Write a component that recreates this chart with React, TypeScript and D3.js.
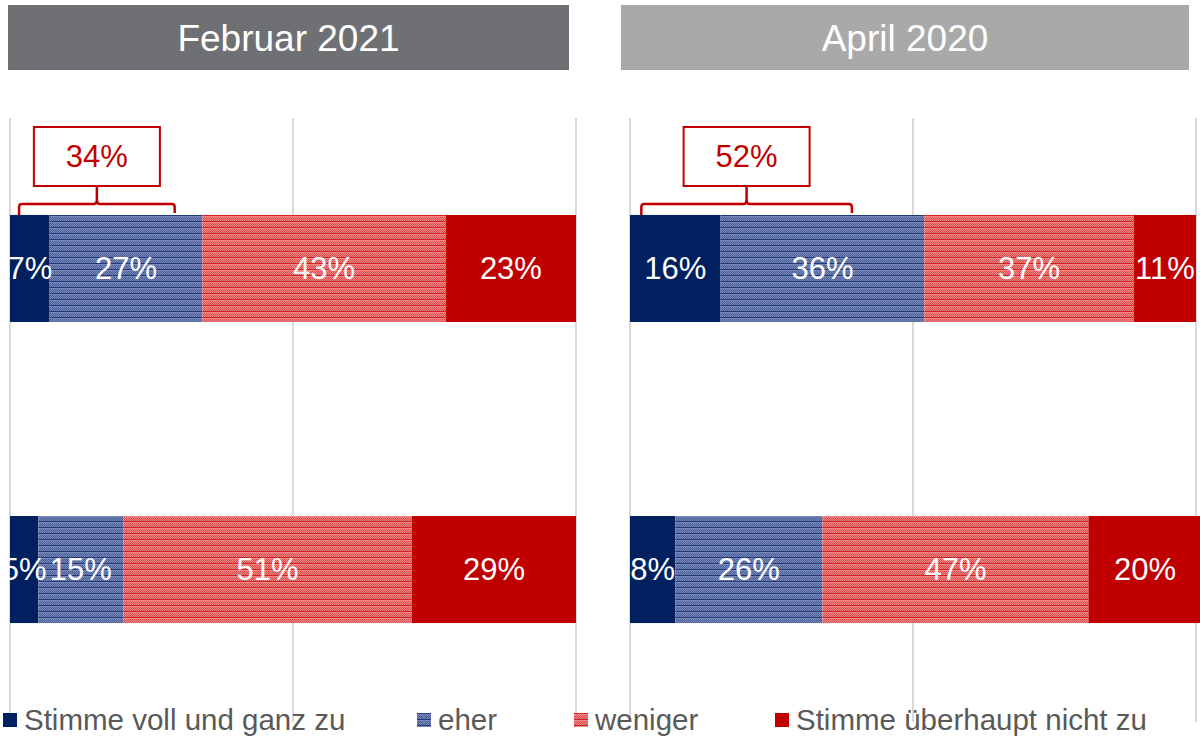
import React from "react";
import * as d3 from "d3";

const panels = ["Februar 2021", "April 2020"];
const rows = ["r1", "r2"];
const seriesNames = ["Stimme voll und ganz zu", "eher", "weniger", "Stimme überhaupt nicht zu"];
// values per panel: [row][series]
const feb2021 = [
  [7, 27, 43, 23],
  [5, 15, 51, 29],
];
const apr2020 = [
  [16, 36, 37, 11],
  [8, 26, 47, 20],
];
const calloutValues = ["34%", "52%"];
const calloutSpan = [
  [1.6, 29.1],
  [2, 39.2],
];
const gridTicks = [0, 50, 100];

const W = 1200;
const H = 739;
const FONT = "'Liberation Sans', Arial, Helvetica, sans-serif";

const fills = ["#002060", "url(#patBlue)", "url(#patRed)", "#c00000"];
const headerFill = ["#6f7074", "#a9a9a9"];

const panelRanges = [
  [10, 576],
  [630, 1196],
];
const headerBoxes = [
  [8, 569],
  [621, 1189],
];

export default function App() {
  const y = d3.scaleBand<string>().domain(rows).range([118, 720]).paddingInner(0.6445).paddingOuter(0.322);
  const data = [feb2021, apr2020];
  const legendX = [3, 417, 574, 775];

  return (
    <svg width={W} height={H} style={{ position: "absolute", left: 0, top: 0, background: "#fff" }} fontFamily={FONT}>
      <defs>
        <pattern id="patBlue" width={4} height={6} patternUnits="userSpaceOnUse">
          <rect width={4} height={6} fill="#7788b8" />
          <rect x={0} y={1} width={1} height={1} fill="#4a5f98" />
          <rect x={2} y={1} width={1} height={1} fill="#4a5f98" />
          <rect x={1} y={2} width={1} height={1} fill="#4a5f98" />
          <rect x={3} y={2} width={1} height={1} fill="#4a5f98" />
          <rect x={0} y={3} width={1} height={1} fill="#4a5f98" />
          <rect x={2} y={3} width={1} height={1} fill="#4a5f98" />
          <rect x={1} y={4} width={1} height={1} fill="#4a5f98" />
          <rect x={3} y={4} width={1} height={1} fill="#4a5f98" />
          <rect x={0} y={5} width={4} height={1} fill="#23397a" />
        </pattern>
        <pattern id="patRed" width={4} height={6} patternUnits="userSpaceOnUse">
          <rect width={4} height={6} fill="#ec8a8a" />
          <rect x={0} y={1} width={1} height={1} fill="#dc4a4a" />
          <rect x={2} y={1} width={1} height={1} fill="#dc4a4a" />
          <rect x={1} y={2} width={1} height={1} fill="#dc4a4a" />
          <rect x={3} y={2} width={1} height={1} fill="#dc4a4a" />
          <rect x={0} y={3} width={1} height={1} fill="#dc4a4a" />
          <rect x={2} y={3} width={1} height={1} fill="#dc4a4a" />
          <rect x={1} y={4} width={1} height={1} fill="#dc4a4a" />
          <rect x={3} y={4} width={1} height={1} fill="#dc4a4a" />
          <rect x={0} y={5} width={4} height={1} fill="#d42020" />
        </pattern>
      </defs>

      {panels.map((title, pi) => {
        const x = d3.scaleLinear().domain([0, 100]).range(panelRanges[pi]);
        const [hx0, hx1] = headerBoxes[pi];
        const rowsData = data[pi];
        const [bs, be] = calloutSpan[pi];
        const bx0 = x(bs);
        const bx1 = x(be);
        const bmid = (bx0 + bx1) / 2;
        const barTop = y(rows[0])!;
        const bracketY = barTop - 11;
        const boxW = 126;
        const boxTop = 127;
        const boxBot = 186;
        return (
          <g key={title}>
            <rect x={hx0} y={5} width={hx1 - hx0} height={65} fill={headerFill[pi]} />
            <text x={(hx0 + hx1) / 2} y={38} dy="0.35em" textAnchor="middle" fill="#fff" fontSize={37}>
              {title}
            </text>
            {gridTicks.map((t) => (
              <line key={t} x1={x(t)} x2={x(t)} y1={118} y2={722} stroke="#d9d9d9" strokeWidth={2} />
            ))}
            {rows.map((r, ri) => {
              const vals = rowsData[ri];
              const stack: number[] = [];
              vals.reduce((acc, v) => {
                stack.push(acc);
                return acc + v;
              }, 0);
              return (
                <g key={r}>
                  {vals.map((v, si) => (
                    <rect
                      key={si}
                      x={x(stack[si])}
                      y={y(r)}
                      width={x(stack[si] + v) - x(stack[si])}
                      height={y.bandwidth()}
                      fill={fills[si]}
                    />
                  ))}
                  {vals.map((v, si) => (
                    <text
                      key={"t" + si}
                      x={(x(stack[si]) + x(stack[si] + v)) / 2}
                      y={y(r)! + y.bandwidth() / 2}
                      dy="0.35em"
                      textAnchor="middle"
                      fill="#fff"
                      fontSize={31}
                    >
                      {v}%
                    </text>
                  ))}
                </g>
              );
            })}
            <path
              d={`M${bx0},${barTop} L${bx0},${bracketY + 3} Q${bx0},${bracketY} ${bx0 + 3},${bracketY} L${bmid - 3},${bracketY} Q${bmid},${bracketY} ${bmid},${bracketY - 4} L${bmid},${boxBot} M${bmid},${bracketY - 4} Q${bmid},${bracketY} ${bmid + 3},${bracketY} L${bx1 - 3},${bracketY} Q${bx1},${bracketY} ${bx1},${bracketY + 3} L${bx1},${barTop - 2}`}
              fill="none"
              stroke="#c00000"
              strokeWidth={2.5}
            />
            <rect x={bmid - boxW / 2} y={boxTop} width={boxW} height={boxBot - boxTop} fill="#fff" stroke="#c00000" strokeWidth={2} />
            <text x={bmid} y={(boxTop + boxBot) / 2} dy="0.35em" textAnchor="middle" fill="#c00000" fontSize={31}>
              {calloutValues[pi]}
            </text>
          </g>
        );
      })}

      {seriesNames.map((name, i) => (
        <g key={name}>
          <rect x={legendX[i]} y={713} width={14} height={14} fill={fills[i]} />
          <text x={legendX[i] + 21} y={720} dy="0.35em" fill="#595959" fontSize={29.5}>
            {name}
          </text>
        </g>
      ))}
    </svg>
  );
}
